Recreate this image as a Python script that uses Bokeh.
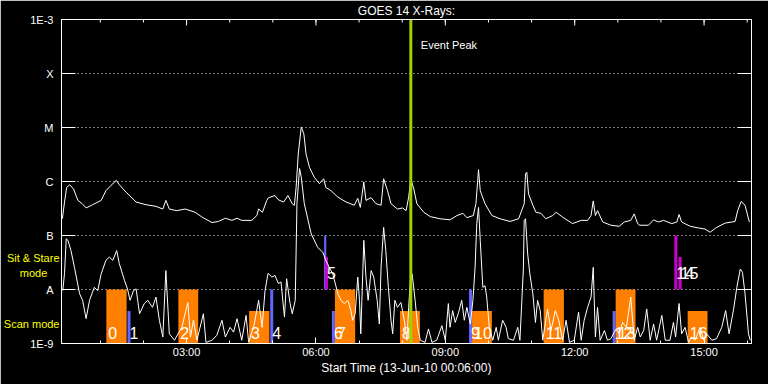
import numpy as np
from bokeh.plotting import figure
from bokeh.models import (Range1d, LogAxis, LinearAxis, FixedTicker, Label,
                          ColumnDataSource, Span)
from bokeh.embed import file_html
from bokeh.resources import INLINE
from bokeh.core.properties import value

# ---------------- data ----------------
title_text = "GOES 14 X-Rays:"
x_title = "Start Time (13-Jun-10 00:06:00)"
x_start, x_end = 0.1, 16.1          # hours of 13-Jun-10
x_major = [3, 6, 9, 12, 15]
x_major_labels = ["03:00", "06:00", "09:00", "12:00", "15:00"]
x_minor = list(range(1, 17))
y_ticks = [1e-9, 1e-8, 1e-7, 1e-6, 1e-5, 1e-4, 1e-3]
y_tick_labels = ["1E-9", "A", "B", "C", "M", "X", "1E-3"]
mode_levels = [10 ** -7.556, 10 ** -8.64]
mode_names = ["Sit & Stare\nmode    ", "Scan mode"]

# long channel (1-8 A), time [h], log10 flux [W/m^2]
long_t = [0.12,0.17,0.22,0.29,0.38,0.48,0.58,0.67,0.82,1.02,
          1.13,1.25,1.37,1.44,1.60,1.83,2.06,2.29,2.45,2.52,
          2.60,2.77,2.97,3.20,3.36,3.59,3.74,3.90,4.05,4.17,
          4.28,4.51,4.63,4.67,4.76,4.86,4.90,5.05,5.13,5.25,
          5.35,5.45,5.50,5.54,5.59,5.66,5.72,5.77,5.85,5.96,
          6.08,6.18,6.23,6.35,6.51,6.70,6.89,6.97,7.03,7.11,
          7.16,7.28,7.39,7.51,7.57,7.66,7.74,7.89,8.01,8.09,
          8.15,8.20,8.27,8.34,8.50,8.65,8.88,9.11,9.27,9.41,
          9.50,9.65,9.71,9.77,9.81,9.92,10.08,10.27,10.50,10.70,
          10.83,10.86,10.89,10.93,11.03,11.10,11.22,11.33,11.49,11.57,
          11.72,11.95,12.15,12.30,12.38,12.43,12.48,12.53,12.65,12.84,
          13.03,13.15,13.30,13.38,13.46,13.51,13.71,13.83,13.94,14.06,
          14.25,14.37,14.42,14.48,14.68,14.87,15.02,15.14,15.29,15.49,
          15.72,15.78,15.86,15.95,16.05]
long_log = [-6.69,-6.38,-6.11,-6.06,-6.14,-6.35,-6.41,-6.49,-6.43,-6.35,
            -6.17,-6.07,-5.98,-6.06,-6.20,-6.38,-6.43,-6.46,-6.51,-6.35,
            -6.51,-6.54,-6.51,-6.57,-6.66,-6.76,-6.74,-6.68,-6.72,-6.68,
            -6.72,-6.72,-6.63,-6.51,-6.57,-6.35,-6.30,-6.26,-6.34,-6.38,
            -6.26,-6.41,-6.44,-6.11,-5.49,-4.99,-5.12,-5.49,-5.74,-5.92,
            -6.04,-5.95,-6.11,-6.17,-6.29,-6.38,-6.44,-6.31,-6.48,-6.01,
            -6.35,-6.30,-6.41,-6.44,-5.95,-6.17,-6.41,-6.51,-6.49,-6.54,
            -6.29,-5.95,-6.14,-6.41,-6.57,-6.65,-6.69,-6.71,-6.63,-6.59,
            -6.67,-6.63,-6.41,-5.78,-6.17,-6.41,-6.63,-6.69,-6.74,-6.69,
            -6.41,-5.86,-5.83,-6.23,-6.44,-6.57,-6.59,-6.69,-6.63,-6.57,
            -6.66,-6.78,-6.72,-6.72,-6.63,-6.36,-6.63,-6.54,-6.75,-6.81,
            -6.83,-6.75,-6.72,-6.60,-6.78,-6.81,-6.81,-6.71,-6.75,-6.72,
            -6.78,-6.75,-6.61,-6.75,-6.83,-6.86,-6.88,-6.94,-6.85,-6.77,
            -6.74,-6.54,-6.37,-6.44,-6.75]

# short channel (0.5-4 A)
short_t = [0.13,0.17,0.21,0.25,0.32,0.40,0.52,0.59,0.67,0.75,
           0.86,0.94,1.02,1.13,1.21,1.29,1.38,1.44,1.56,1.63,
           1.69,1.77,1.83,1.91,2.02,2.10,2.21,2.29,2.37,2.45,
           2.52,2.60,2.72,2.89,3.03,3.09,3.16,3.24,3.39,3.45,
           3.59,3.70,3.82,3.90,4.01,4.09,4.17,4.28,4.38,4.44,
           4.57,4.67,4.75,4.82,4.89,4.98,5.05,5.13,5.19,5.27,
           5.32,5.40,5.45,5.52,5.56,5.62,5.66,5.73,5.89,6.04,
           6.16,6.23,6.31,6.39,6.51,6.58,6.66,6.74,6.81,6.85,
           6.91,6.97,7.01,7.04,7.11,7.16,7.21,7.28,7.34,7.42,
           7.47,7.51,7.57,7.62,7.68,7.74,7.78,7.83,7.89,7.97,
           8.05,8.11,8.15,8.19,8.23,8.30,8.36,8.42,8.53,8.61,
           8.69,8.80,8.92,9.00,9.07,9.11,9.17,9.23,9.31,9.38,
           9.44,9.50,9.58,9.64,9.69,9.73,9.77,9.81,9.87,9.92,
           9.96,10.02,10.10,10.18,10.23,10.33,10.41,10.46,10.58,10.68,
           10.73,10.81,10.83,10.86,10.91,10.96,11.03,11.09,11.14,11.20,
           11.26,11.37,11.45,11.55,11.63,11.72,11.80,11.88,11.99,12.09,
           12.15,12.22,12.30,12.38,12.43,12.48,12.53,12.59,12.69,12.76,
           12.84,12.96,13.03,13.11,13.20,13.30,13.38,13.46,13.52,13.60,
           13.67,13.75,13.83,13.90,14.02,14.10,14.21,14.29,14.34,14.42,
           14.48,14.56,14.64,14.71,14.79,14.91,14.99,15.06,15.18,15.29,
           15.41,15.50,15.58,15.68,15.76,15.84,15.89,15.95,16.03,16.07]
short_log = [-8.02,-7.70,-7.06,-7.09,-7.28,-7.59,-8.08,-8.20,-8.54,-8.20,
             -7.96,-8.02,-7.71,-7.46,-7.40,-7.46,-7.28,-7.52,-7.83,-7.99,
             -8.20,-8.02,-7.99,-8.45,-8.26,-8.20,-8.33,-8.14,-8.57,-8.88,
             -7.65,-8.82,-8.94,-8.70,-8.24,-8.88,-8.57,-8.94,-8.45,-8.98,
             -8.94,-8.85,-8.57,-8.88,-8.70,-8.79,-8.54,-8.94,-8.48,-8.98,
             -8.64,-8.20,-8.70,-8.02,-7.70,-7.77,-7.74,-7.89,-7.86,-8.51,
             -7.80,-8.26,-8.45,-8.20,-6.41,-5.76,-5.92,-6.41,-6.97,-7.22,
             -7.31,-7.46,-7.59,-7.71,-8.08,-8.20,-8.26,-8.20,-8.39,-8.57,
             -8.45,-7.77,-8.20,-8.82,-7.09,-7.77,-8.20,-7.65,-7.77,-8.20,
             -8.64,-7.59,-6.85,-7.28,-7.96,-8.57,-8.82,-8.20,-8.33,-8.24,
             -8.57,-8.94,-8.33,-7.83,-7.71,-8.20,-8.70,-8.94,-8.98,-8.73,
             -8.98,-8.94,-8.67,-8.94,-8.26,-8.70,-8.39,-8.61,-8.42,-8.20,
             -8.57,-8.33,-8.64,-8.20,-7.59,-6.78,-6.48,-7.09,-7.96,-7.93,
             -8.14,-8.70,-8.94,-8.70,-8.94,-8.57,-8.70,-8.91,-8.94,-8.70,
             -8.94,-7.62,-6.72,-6.69,-7.34,-7.71,-8.08,-8.61,-8.20,-8.39,
             -8.94,-8.36,-8.76,-8.39,-8.57,-8.94,-8.57,-8.98,-8.94,-8.42,
             -8.94,-8.57,-8.33,-8.14,-7.59,-8.88,-8.33,-8.94,-8.76,-8.94,
             -8.91,-8.73,-8.82,-8.61,-8.70,-8.14,-8.94,-8.70,-8.88,-8.76,
             -8.36,-8.94,-8.64,-8.94,-8.48,-8.94,-8.94,-8.61,-8.88,-8.26,
             -8.82,-8.70,-8.98,-8.88,-8.94,-8.70,-8.94,-8.82,-8.94,-8.91,
             -8.70,-8.39,-8.82,-8.39,-7.96,-7.62,-7.68,-8.08,-8.82,-8.94]

# observations (bars): start/end [h], low/high log10 level, kind, label
obs_label = ["0", "1", "2", "3", "4", "", "5", "6", "7", "8", "9", "10",
             "11", "12", "13", "14", "15", "16"]
obs_start = [1.14, 1.63, 2.81, 4.45, 4.94, 6.19, 6.21, 6.37, 6.44, 7.95,
             9.55, 9.62, 11.28, 12.88, 12.95, 14.31, 14.41, 14.62]
obs_end = [1.61, 1.70, 3.27, 4.92, 5.01, 6.24, 6.28, 6.44, 6.91, 8.41,
           9.62, 10.08, 11.75, 12.95, 13.41, 14.38, 14.48, 15.08]
obs_low = [-9, -9, -9, -9, -9, -8, -8, -9, -9, -9,
           -9, -9, -9, -9, -9, -8, -8, -9]
obs_high = [-8, -8.4, -8, -8.4, -8, -7, -7.4, -8.4, -8, -8.4,
            -8, -8.4, -8, -8.4, -8, -7, -7.4, -8.4]
obs_kind = ["raster", "short", "raster", "raster", "short", "short", "sit",
            "short", "raster", "raster", "short", "raster", "raster", "short",
            "raster", "sit", "sit", "raster"]
obs_mode = ["scan", "scan", "scan", "scan", "scan", "sit", "sit", "scan",
            "scan", "scan", "scan", "scan", "scan", "scan", "scan", "sit",
            "sit", "scan"]

event_peak = 8.20
event_text = "Event Peak"

# ---------------- styling ----------------
FONT = "Liberation Sans"
kind_color = {"raster": "#ff8000", "short": "#6464ff", "sit": "#cc00cc"}
mode_label_level = {"scan": -8.8, "sit": -7.7}

p = figure(width=768, height=384, output_backend="svg", toolbar_location=None,
           x_range=Range1d(x_start, x_end), y_range=Range1d(1e-9, 1e-3),
           y_axis_type="log", x_axis_location=None, y_axis_location=None,
           background_fill_color="black", border_fill_color="black",
           outline_line_color="white", outline_line_width=1,
           min_border_left=60, min_border_right=17,
           min_border_top=19, min_border_bottom=41)

p.title.text = title_text
p.title.align = "center"
p.title.text_color = "white"
p.title.text_font = FONT
p.title.text_font_size = "12px"
p.title.text_font_style = "normal"
p.title.standoff = 3

# axes
yt = FixedTicker(ticks=y_ticks)
left = LogAxis(ticker=yt, axis_line_color="white", major_tick_line_color="white",
               major_tick_in=14, major_tick_out=0, minor_tick_line_color=None,
               major_label_text_color="white", major_label_text_font=FONT,
               major_label_text_font_size="11px", major_label_standoff=8,
               major_label_overrides=dict(zip(y_ticks, y_tick_labels)))
p.add_layout(left, "left")

# mode names, set in the left margin by a tick-less axis
mode_axis = LogAxis(ticker=FixedTicker(ticks=mode_levels), axis_line_color=None,
                    major_tick_line_color=None, minor_tick_line_color=None,
                    major_tick_in=0, major_tick_out=0,
                    major_label_text_color="#ffff00", major_label_text_font=FONT,
                    major_label_text_font_size="11px", major_label_standoff=-32,
                    major_label_overrides=dict(zip(mode_levels, mode_names)))
p.add_layout(mode_axis, "left")

xt = FixedTicker(ticks=x_major, minor_ticks=x_minor)
bottom = LinearAxis(ticker=xt, axis_line_color="white",
                    major_tick_line_color="white", minor_tick_line_color="white",
                    major_tick_in=6, major_tick_out=0, minor_tick_in=3, minor_tick_out=0,
                    major_label_text_color="white", major_label_text_font=FONT,
                    major_label_text_font_size="11px", major_label_standoff=2,
                    major_label_overrides=dict(zip(x_major, x_major_labels)),
                    axis_label=x_title, axis_label_text_color="white",
                    axis_label_text_font=FONT, axis_label_text_font_size="12px",
                    axis_label_text_font_style="normal", axis_label_standoff=0)
p.add_layout(bottom, "below")

# inward ticks on the top and right frame edges
p.ray(x=x_major, y=[1e-3] * len(x_major), length=6, length_units="screen",
      angle=-np.pi / 2, line_color="white", line_width=1)
p.ray(x=x_minor, y=[1e-3] * len(x_minor), length=3, length_units="screen",
      angle=-np.pi / 2, line_color="white", line_width=1)
p.ray(x=[x_end] * len(y_ticks), y=y_ticks, length=14, length_units="screen",
      angle=np.pi, line_color="white", line_width=1)

p.xgrid.visible = False
p.ygrid.ticker = yt
p.ygrid.grid_line_color = "white"
p.ygrid.grid_line_dash = "1 3"
p.ygrid.grid_line_width = 1

# bars
bars = ColumnDataSource(dict(
    left=obs_start, right=obs_end,
    bottom=[10 ** v for v in obs_low], top=[10 ** v for v in obs_high],
    color=[kind_color[k] for k in obs_kind],
))
p.quad(left="left", right="right", bottom="bottom", top="top", source=bars,
       fill_color="color", line_color=None)

# curves
p.line(long_t, [10 ** v for v in long_log], line_color="white", line_width=1)
p.line(short_t, [10 ** v for v in short_log], line_color="white", line_width=1)

# bar labels (only labelled observations)
idx = [i for i, s in enumerate(obs_label) if s]
labels = ColumnDataSource(dict(
    x=[obs_start[i] for i in idx],
    y=[10 ** mode_label_level[obs_mode[i]] for i in idx],
    text=[obs_label[i] for i in idx],
))
p.text(x="x", y="y", text="text", source=labels, x_offset=2,
       text_color="white", text_font=value(FONT), text_font_size="16px",
       text_baseline="middle", text_align="left")

# event peak
p.add_layout(Span(location=event_peak, dimension="height",
                  line_color="#a0d200", line_width=3))
p.add_layout(Label(x=event_peak, y=299, y_units="screen", x_offset=10,
                   text=event_text, text_color="white", text_font=FONT,
                   text_font_size="11px", text_baseline="middle"))

open("out.html", "w").write(file_html(p, INLINE))
